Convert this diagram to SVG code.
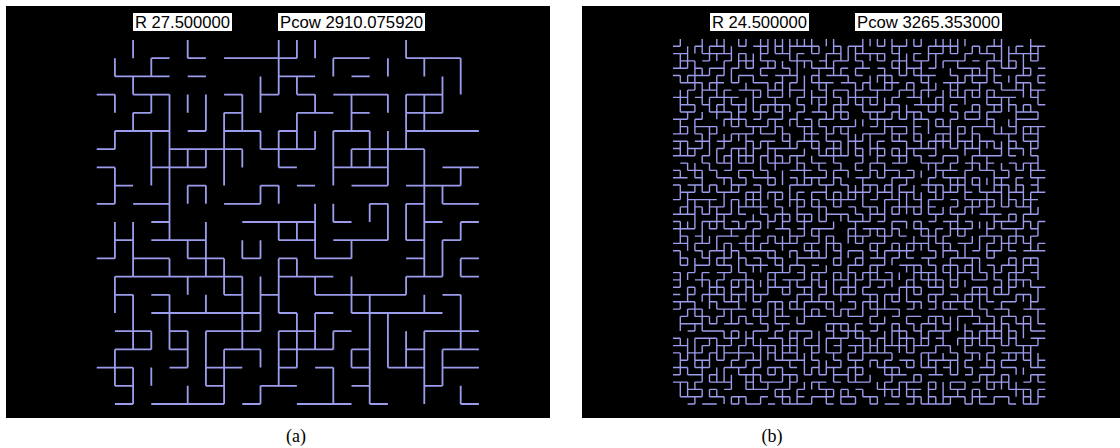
<svg xmlns="http://www.w3.org/2000/svg" width="1120" height="448" viewBox="0 0 1120 448">
<style>
.bg{fill:#fff}
.panel{fill:#000}
.box{fill:#fff}
.lbl{font-family:"Liberation Sans",Arial,sans-serif;font-size:16px;fill:#000}
.cap{font-family:"Liberation Serif","Times New Roman",serif;font-size:18px;fill:#000;text-anchor:middle}
.la{fill:none;stroke:#9c9cec;stroke-width:0.1}
.lb line{fill:none;stroke:#9c9cec;stroke-width:0.19}
.A{stroke-dasharray:2 1 1 1 3 1 2 1 2 2 1 1}
.B{stroke-dasharray:1 1 3 1 1 2 2 1 1 1 3 2}
.C{stroke-dasharray:3 1 1 1 2 1 1 2 1 1 2 1 2 2}
.D{stroke-dasharray:1 1 2 1 1 1 4 2 1 1 2 2}
.E{stroke-dasharray:2 1 1 1 1 2 3 1 2 1 1 2}
.F{stroke-dasharray:1 1 1 1 2 1 1 3 3 1 1 1 2 1}
.G{stroke-dasharray:4 1 1 2 1 1 2 1 1 1 1 1 2 2}
</style>
<rect class="bg" x="0" y="0" width="1120" height="448"/>
<g id="panel-a">
<rect class="panel" x="6" y="6" width="544" height="412"/>
<rect class="box" x="133" y="13" width="99" height="18"/>
<text class="lbl" x="135" y="28" textLength="95" lengthAdjust="spacingAndGlyphs">R 27.500000</text>
<rect class="box" x="278" y="13" width="147" height="18"/>
<text class="lbl" x="280" y="28" textLength="143" lengthAdjust="spacingAndGlyphs">Pcow 2910.075920</text>
<g transform="translate(96.7 40) scale(18.2)">
<path class="la" d="M3 1H4M5 1H6M7 1H11M13 1H15M17 1H20
M1 2H4M5 2H6M10 2H12M14 2H15
M0 3H1M2 3H4M7 3H8M9 3H10M11 3H12M13 3H16M17 3H19
M2 4H3M7 4H8M11 4H13M14 4H15M17 4H19
M1 5H4M5 5H6M7 5H9M10 5H11M13 5H15M17 5H21
M0 6H1M4 6H8M9 6H12M14 6H18
M0 7H1M3 7H6M10 7H11M13 7H16M19 7H21
M1 8H2M5 8H6M9 8H10M11 8H12M14 8H16M17 8H20
M0 9H1M2 9H4M7 9H9M15 9H16M17 9H18M19 9H21
M3 10H4M8 10H12M13 10H14M18 10H19M20 10H21
M1 11H2M3 11H6M10 11H12M13 11H16M17 11H18M19 11H20
M0 12H1M2 12H4M5 12H7M8 12H9M10 12H11M12 12H14M17 12H18M20 12H21
M1 13H8M10 13H13M17 13H19M20 13H21
M1 14H2M3 14H4M7 14H8M9 14H10M12 14H17M19 14H20
M3 15H9M10 15H11M12 15H13M14 15H19
M1 16H3M4 16H5M6 16H9M10 16H12M13 16H14M18 16H21
M1 17H3M4 17H5M7 17H9M10 17H13M14 17H15M17 17H18M19 17H21
M0 18H2M4 18H5M6 18H8M10 18H11M12 18H13M14 18H15M16 18H18M19 18H21
M1 19H2M6 19H7M9 19H11M14 19H15M18 19H19
M1 20H2M3 20H7M8 20H9M11 20H14M15 20H16M20 20H21
M1 1V2M1 3V4M1 5V6M1 7V9M1 10V12M1 13V15M1 17V19
M2 0V1M2 2V3M2 4V5M2 10V13M2 14V17M2 18V20
M3 1V2M3 3V4M3 5V8M3 16V17M3 18V19
M4 3V11M4 12V13M4 14V17
M5 0V1M5 3V4M5 6V7M5 8V9M5 11V12M5 13V14M5 16V18M5 19V20
M6 3V5M6 6V7M6 8V9M6 10V13M6 14V15M6 16V19
M7 4V8M7 12V14M7 17V20
M8 3V5M8 6V7M8 11V12M8 13V17
M9 2V4M9 5V6M9 8V9M9 11V12M9 13V16M9 17V18M9 19V20
M10 0V3M10 5V7M10 8V9M10 10V11M10 12V15M10 16V19
M11 0V1M11 2V3M11 4V6M11 10V11M11 12V13M11 15V18
M12 0V1M12 3V4M12 5V6M12 9V12M12 13V14M12 15V17
M13 1V2M13 5V8M13 9V10M13 16V17M13 18V20
M14 3V5M14 6V7M14 11V12M14 13V15M14 17V18
M15 5V7M15 9V10M15 14V20
M16 1V2M16 3V4M16 5V8M16 9V11M16 15V18
M17 0V1M17 3V6M17 9V11M17 13V14M17 16V18
M18 1V2M18 3V5M18 6V13M18 14V15M18 16V20
M19 2V4M19 8V9M19 11V13M19 17V19
M20 1V3M20 7V8M20 10V11M20 12V13M20 14V17M20 19V20"/>
</g>
</g>
<g id="panel-b">
<rect class="panel" x="582" y="6" width="538" height="412"/>
<rect class="box" x="710" y="13" width="99" height="18"/>
<text class="lbl" x="712" y="28" textLength="95" lengthAdjust="spacingAndGlyphs">R 24.500000</text>
<rect class="box" x="855" y="13" width="147" height="18"/>
<text class="lbl" x="857" y="28" textLength="143" lengthAdjust="spacingAndGlyphs">Pcow 3265.353000</text>
<g class="lb" transform="translate(673 39) scale(7.3)">
<line class="D" x1="0" y1="1" x2="51" y2="1" stroke-dashoffset="10"/>
<line class="G" x1="0" y1="2" x2="51" y2="2" stroke-dashoffset="17"/>
<line class="C" x1="0" y1="3" x2="51" y2="3" stroke-dashoffset="5"/>
<line class="F" x1="0" y1="4" x2="51" y2="4" stroke-dashoffset="12"/>
<line class="B" x1="0" y1="5" x2="51" y2="5" stroke-dashoffset="0"/>
<line class="E" x1="0" y1="6" x2="51" y2="6" stroke-dashoffset="7"/>
<line class="A" x1="0" y1="7" x2="51" y2="7" stroke-dashoffset="14"/>
<line class="D" x1="0" y1="8" x2="51" y2="8" stroke-dashoffset="2"/>
<line class="G" x1="0" y1="9" x2="51" y2="9" stroke-dashoffset="9"/>
<line class="C" x1="0" y1="10" x2="51" y2="10" stroke-dashoffset="16"/>
<line class="F" x1="0" y1="11" x2="51" y2="11" stroke-dashoffset="4"/>
<line class="B" x1="0" y1="12" x2="51" y2="12" stroke-dashoffset="11"/>
<line class="E" x1="0" y1="13" x2="51" y2="13" stroke-dashoffset="18"/>
<line class="A" x1="0" y1="14" x2="51" y2="14" stroke-dashoffset="6"/>
<line class="D" x1="0" y1="15" x2="51" y2="15" stroke-dashoffset="13"/>
<line class="G" x1="0" y1="16" x2="51" y2="16" stroke-dashoffset="1"/>
<line class="C" x1="0" y1="17" x2="51" y2="17" stroke-dashoffset="8"/>
<line class="F" x1="0" y1="18" x2="51" y2="18" stroke-dashoffset="15"/>
<line class="B" x1="0" y1="19" x2="51" y2="19" stroke-dashoffset="3"/>
<line class="E" x1="0" y1="20" x2="51" y2="20" stroke-dashoffset="10"/>
<line class="A" x1="0" y1="21" x2="51" y2="21" stroke-dashoffset="17"/>
<line class="D" x1="0" y1="22" x2="51" y2="22" stroke-dashoffset="5"/>
<line class="G" x1="0" y1="23" x2="51" y2="23" stroke-dashoffset="12"/>
<line class="C" x1="0" y1="24" x2="51" y2="24" stroke-dashoffset="0"/>
<line class="F" x1="0" y1="25" x2="51" y2="25" stroke-dashoffset="7"/>
<line class="B" x1="0" y1="26" x2="51" y2="26" stroke-dashoffset="14"/>
<line class="E" x1="0" y1="27" x2="51" y2="27" stroke-dashoffset="2"/>
<line class="A" x1="0" y1="28" x2="51" y2="28" stroke-dashoffset="9"/>
<line class="D" x1="0" y1="29" x2="51" y2="29" stroke-dashoffset="16"/>
<line class="G" x1="0" y1="30" x2="51" y2="30" stroke-dashoffset="4"/>
<line class="C" x1="0" y1="31" x2="51" y2="31" stroke-dashoffset="11"/>
<line class="F" x1="0" y1="32" x2="51" y2="32" stroke-dashoffset="18"/>
<line class="B" x1="0" y1="33" x2="51" y2="33" stroke-dashoffset="6"/>
<line class="E" x1="0" y1="34" x2="51" y2="34" stroke-dashoffset="13"/>
<line class="A" x1="0" y1="35" x2="51" y2="35" stroke-dashoffset="1"/>
<line class="D" x1="0" y1="36" x2="51" y2="36" stroke-dashoffset="8"/>
<line class="G" x1="0" y1="37" x2="51" y2="37" stroke-dashoffset="15"/>
<line class="C" x1="0" y1="38" x2="51" y2="38" stroke-dashoffset="3"/>
<line class="F" x1="0" y1="39" x2="51" y2="39" stroke-dashoffset="10"/>
<line class="B" x1="0" y1="40" x2="51" y2="40" stroke-dashoffset="17"/>
<line class="E" x1="0" y1="41" x2="51" y2="41" stroke-dashoffset="5"/>
<line class="A" x1="0" y1="42" x2="51" y2="42" stroke-dashoffset="12"/>
<line class="D" x1="0" y1="43" x2="51" y2="43" stroke-dashoffset="0"/>
<line class="G" x1="0" y1="44" x2="51" y2="44" stroke-dashoffset="7"/>
<line class="C" x1="0" y1="45" x2="51" y2="45" stroke-dashoffset="14"/>
<line class="F" x1="0" y1="46" x2="51" y2="46" stroke-dashoffset="2"/>
<line class="B" x1="0" y1="47" x2="51" y2="47" stroke-dashoffset="9"/>
<line class="E" x1="0" y1="48" x2="51" y2="48" stroke-dashoffset="16"/>
<line class="A" x1="0" y1="49" x2="51" y2="49" stroke-dashoffset="4"/>
<line class="D" x1="0" y1="50" x2="51" y2="50" stroke-dashoffset="11"/>
<line class="A" x1="1" y1="0" x2="1" y2="50" stroke-dashoffset="16"/>
<line class="F" x1="2" y1="0" x2="2" y2="50" stroke-dashoffset="10"/>
<line class="D" x1="3" y1="0" x2="3" y2="50" stroke-dashoffset="4"/>
<line class="B" x1="4" y1="0" x2="4" y2="50" stroke-dashoffset="15"/>
<line class="G" x1="5" y1="0" x2="5" y2="50" stroke-dashoffset="9"/>
<line class="E" x1="6" y1="0" x2="6" y2="50" stroke-dashoffset="3"/>
<line class="C" x1="7" y1="0" x2="7" y2="50" stroke-dashoffset="14"/>
<line class="A" x1="8" y1="0" x2="8" y2="50" stroke-dashoffset="8"/>
<line class="F" x1="9" y1="0" x2="9" y2="50" stroke-dashoffset="2"/>
<line class="D" x1="10" y1="0" x2="10" y2="50" stroke-dashoffset="13"/>
<line class="B" x1="11" y1="0" x2="11" y2="50" stroke-dashoffset="7"/>
<line class="G" x1="12" y1="0" x2="12" y2="50" stroke-dashoffset="1"/>
<line class="E" x1="13" y1="0" x2="13" y2="50" stroke-dashoffset="12"/>
<line class="C" x1="14" y1="0" x2="14" y2="50" stroke-dashoffset="6"/>
<line class="A" x1="15" y1="0" x2="15" y2="50" stroke-dashoffset="0"/>
<line class="F" x1="16" y1="0" x2="16" y2="50" stroke-dashoffset="11"/>
<line class="D" x1="17" y1="0" x2="17" y2="50" stroke-dashoffset="5"/>
<line class="B" x1="18" y1="0" x2="18" y2="50" stroke-dashoffset="16"/>
<line class="G" x1="19" y1="0" x2="19" y2="50" stroke-dashoffset="10"/>
<line class="E" x1="20" y1="0" x2="20" y2="50" stroke-dashoffset="4"/>
<line class="C" x1="21" y1="0" x2="21" y2="50" stroke-dashoffset="15"/>
<line class="A" x1="22" y1="0" x2="22" y2="50" stroke-dashoffset="9"/>
<line class="F" x1="23" y1="0" x2="23" y2="50" stroke-dashoffset="3"/>
<line class="D" x1="24" y1="0" x2="24" y2="50" stroke-dashoffset="14"/>
<line class="B" x1="25" y1="0" x2="25" y2="50" stroke-dashoffset="8"/>
<line class="G" x1="26" y1="0" x2="26" y2="50" stroke-dashoffset="2"/>
<line class="E" x1="27" y1="0" x2="27" y2="50" stroke-dashoffset="13"/>
<line class="C" x1="28" y1="0" x2="28" y2="50" stroke-dashoffset="7"/>
<line class="A" x1="29" y1="0" x2="29" y2="50" stroke-dashoffset="1"/>
<line class="F" x1="30" y1="0" x2="30" y2="50" stroke-dashoffset="12"/>
<line class="D" x1="31" y1="0" x2="31" y2="50" stroke-dashoffset="6"/>
<line class="B" x1="32" y1="0" x2="32" y2="50" stroke-dashoffset="0"/>
<line class="G" x1="33" y1="0" x2="33" y2="50" stroke-dashoffset="11"/>
<line class="E" x1="34" y1="0" x2="34" y2="50" stroke-dashoffset="5"/>
<line class="C" x1="35" y1="0" x2="35" y2="50" stroke-dashoffset="16"/>
<line class="A" x1="36" y1="0" x2="36" y2="50" stroke-dashoffset="10"/>
<line class="F" x1="37" y1="0" x2="37" y2="50" stroke-dashoffset="4"/>
<line class="D" x1="38" y1="0" x2="38" y2="50" stroke-dashoffset="15"/>
<line class="B" x1="39" y1="0" x2="39" y2="50" stroke-dashoffset="9"/>
<line class="G" x1="40" y1="0" x2="40" y2="50" stroke-dashoffset="3"/>
<line class="E" x1="41" y1="0" x2="41" y2="50" stroke-dashoffset="14"/>
<line class="C" x1="42" y1="0" x2="42" y2="50" stroke-dashoffset="8"/>
<line class="A" x1="43" y1="0" x2="43" y2="50" stroke-dashoffset="2"/>
<line class="F" x1="44" y1="0" x2="44" y2="50" stroke-dashoffset="13"/>
<line class="D" x1="45" y1="0" x2="45" y2="50" stroke-dashoffset="7"/>
<line class="B" x1="46" y1="0" x2="46" y2="50" stroke-dashoffset="1"/>
<line class="G" x1="47" y1="0" x2="47" y2="50" stroke-dashoffset="12"/>
<line class="E" x1="48" y1="0" x2="48" y2="50" stroke-dashoffset="6"/>
<line class="C" x1="49" y1="0" x2="49" y2="50" stroke-dashoffset="0"/>
<line class="A" x1="50" y1="0" x2="50" y2="50" stroke-dashoffset="11"/>
</g>
</g>
<text class="cap" x="296" y="442">(a)</text>
<text class="cap" x="772" y="442">(b)</text>
</svg>
